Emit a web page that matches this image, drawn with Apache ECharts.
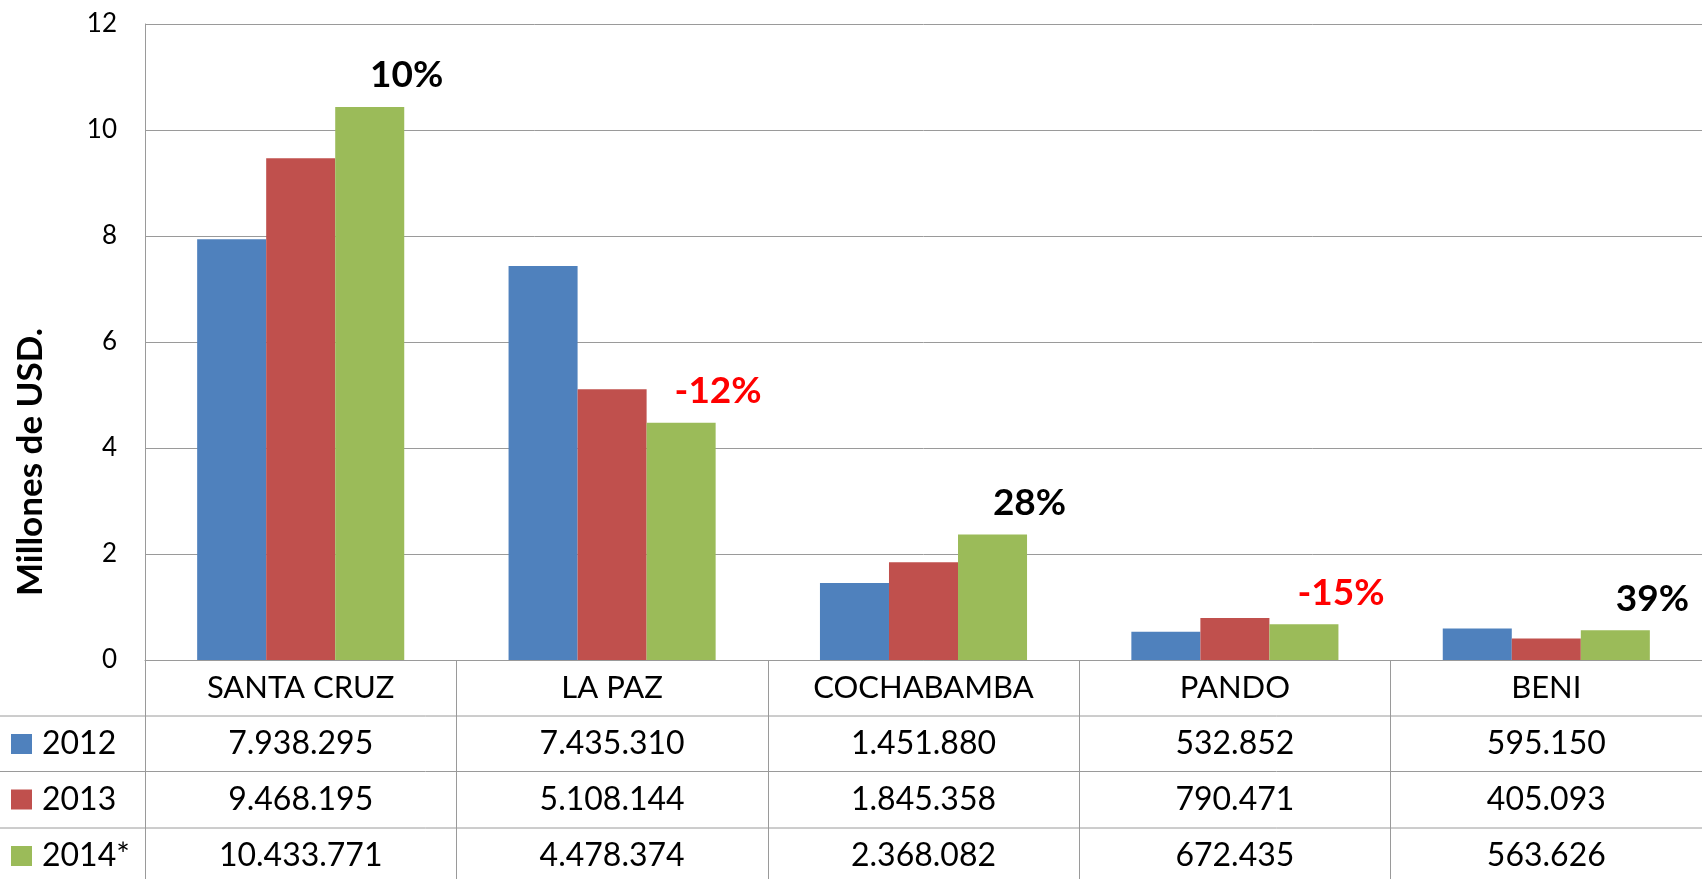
<!DOCTYPE html>
<html>
<head>
<meta charset="utf-8">
<script src="https://cdn.jsdelivr.net/npm/echarts@6/dist/echarts.min.js"></script>
<style>
  html, body { margin: 0; padding: 0; background: #fff; }
  #chart { width: 1702px; height: 879px; }
</style>
</head>
<body>
<div id="chart"></div>
<script>
const departments = ["SANTA CRUZ", "LA PAZ", "COCHABAMBA", "PANDO", "BENI"];
const years = ["2012", "2013", "2014*"];
const usd2012 = [7938295, 7435310, 1451880, 532852, 595150];
const usd2013 = [9468195, 5108144, 1845358, 790471, 405093];
const usd2014 = [10433771, 4478374, 2368082, 672435, 563626];
const yTicks = { min: 0, max: 12, interval: 2 };

const colors = ["#4F81BD", "#C0504D", "#9BBB59"];
const font = "Lato, 'Open Sans', sans-serif";
const gridColor = "#9a9a9a";

// variación 2014 vs 2013
const growth = usd2014.map((v, i) => Math.round((v / usd2013[i] - 1) * 100));

function fmt(n){
  return String(n).replace(/\B(?=(\d{3})+(?!\d))/g, ".");
}

const chart = echarts.init(document.getElementById("chart"));

const rows = [usd2012, usd2013, usd2014];
const rowTops = [716, 771.5, 828];

const option = {
  animation: false,
  textStyle: { fontFamily: font },
  grid: { left: 145, top: 24, width: 1567, height: 636 },
  // una leyenda por fila de la tabla
  legend: years.map((y, i) => ({
    orient: "vertical",
    left: 11,
    top: rowTops[i],
    padding: 0,
    itemWidth: 21,
    itemHeight: 20,
    itemGap: 0,
    icon: "rect",
    selectedMode: false,
    textStyle: { fontFamily: font, fontSize: 32, color: "#000", lineHeight: 56, padding: [0, 0, 0, 5] },
    data: [y]
  })),
  xAxis: {
    type: "category",
    data: departments,
    axisLine: { show: true, lineStyle: { color: gridColor, width: 1 } },
    axisTick: { show: true, interval: 0, length: 219, lineStyle: { color: gridColor, width: 1 } },
    axisLabel: {
      interval: 0,
      margin: 0,
      formatter: (val, idx) => {
        const lines = ["{c|" + val + "}"];
        rows.forEach(r => lines.push("{v|" + fmt(r[idx]) + "}"));
        return lines.join("\n");
      },
      rich: {
        c: { fontFamily: font, fontSize: 31, color: "#000", lineHeight: 56 },
        v: { fontFamily: font, fontSize: 32, color: "#000", lineHeight: 56 }
      }
    }
  },
  yAxis: {
    type: "value",
    min: yTicks.min,
    max: yTicks.max,
    interval: yTicks.interval,
    axisLine: { show: true, lineStyle: { color: gridColor, width: 1 } },
    axisTick: { show: false },
    axisLabel: { fontFamily: font, fontSize: 26, color: "#000", margin: 28 },
    splitLine: { lineStyle: { color: gridColor, width: 1 } }
  },
  graphic: [
    {
      type: "text",
      x: 31, y: 462,
      rotation: Math.PI / 2,
      style: {
        text: "Millones de USD.",
        fontFamily: font, fontSize: 35, fontWeight: "bold", fill: "#000",
        align: "center", verticalAlign: "middle"
      }
    },
    ...rowTops.map(y => ({
      type: "line",
      shape: { x1: 0, y1: y, x2: 1702, y2: y },
      style: { stroke: gridColor, lineWidth: 1 }
    }))
  ],
  series: [
    {
      name: years[0], type: "bar", barGap: "0%", barCategoryGap: "33.5%",
      itemStyle: { color: colors[0] },
      data: usd2012.map(v => v / 1e6)
    },
    {
      name: years[1], type: "bar", barGap: "0%", barCategoryGap: "33.5%",
      itemStyle: { color: colors[1] },
      data: usd2013.map(v => v / 1e6)
    },
    {
      name: years[2], type: "bar", barGap: "0%", barCategoryGap: "33.5%",
      itemStyle: { color: colors[2] },
      label: {
        show: true,
        position: "top",
        offset: [37, -8],
        fontFamily: font,
        fontSize: 37,
        fontWeight: "bold",
        formatter: p => growth[p.dataIndex] + "%"
      },
      data: usd2014.map((v, i) => ({
        value: v / 1e6,
        label: { color: growth[i] < 0 ? "#FF0000" : "#000000" }
      }))
    }
  ]
};

chart.setOption(option);
</script>
</body>
</html>
